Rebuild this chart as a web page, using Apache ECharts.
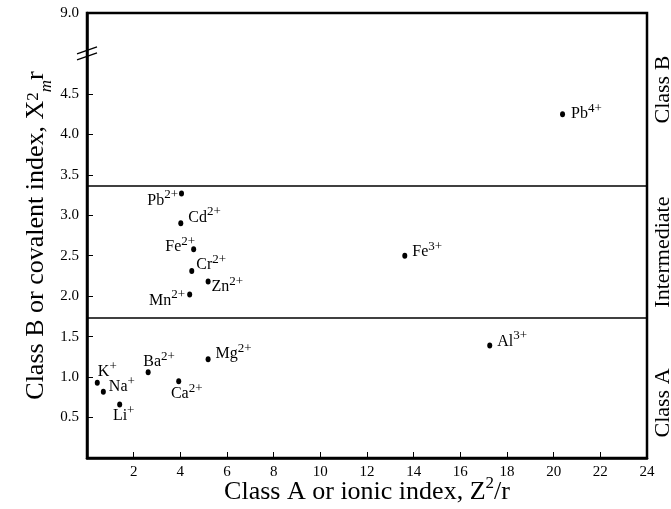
<!DOCTYPE html>
<html><head><meta charset="utf-8">
<script src="https://cdn.jsdelivr.net/npm/echarts@6/dist/echarts.min.js"></script>
<style>html,body{margin:0;padding:0;background:#fff}#c{width:671px;height:509px}</style>
</head><body><div id="c"></div>
<script>
// ---- data ----
const ionSymbols = ['Pb','Cd','Fe','Cr','Zn','Mn','K','Na','Li','Ba','Ca','Mg','Fe','Al','Pb'];
const ionCharges = ['2+','2+','2+','2+','2+','2+','+','+','+','2+','2+','2+','3+','3+','4+'];
const ionicIndex = [4.05,4.02,4.57,4.49,5.19,4.40,0.44,0.70,1.40,2.62,3.93,5.19,13.62,17.26,20.38];
const covalentIndex = [3.27,2.90,2.58,2.31,2.18,2.02,0.93,0.82,0.66,1.06,0.95,1.22,2.50,1.39,4.25];
const xTickValues = [2,4,6,8,10,12,14,16,18,20,22,24];
const yTickValues = [0.5,1.0,1.5,2.0,2.5,3.0,3.5,4.0,4.5,5.5];
const yTickLabels = ['0.5','1.0','1.5','2.0','2.5','3.0','3.5','4.0','4.5','9.0'];
const yMinorTickValues = [0.5,1.0,1.5,2.0,2.5,3.0,3.5,4.0,4.5];
const classBoundaries = [1.73, 3.36];
const classNames = ['Class A','Intermediate','Class B'];
const axisBreakAt = 5.0;

// ---- layout / style ----
const FONT = 'Liberation Serif';
const labelPlacement = [
  ['left',[4,5]],   // Pb2+
  ['right',[0,-8]], // Cd2+
  ['left',[9,-4]],  // Fe2+
  ['right',[-3,-8]],// Cr2+
  ['right',[-4,3]], // Zn2+
  ['left',[3,4]],   // Mn2+
  ['top',[10,5]],   // K+
  ['right',[-2,-7]],// Na+
  ['bottom',[4,-9]],// Li+
  ['top',[11,6]],   // Ba2+
  ['bottom',[8,-7]],// Ca2+
  ['right',[0,-7]], // Mg2+
  ['right',[0,-6]], // Fe3+
  ['right',[0,-6]], // Al3+
  ['right',[1,-2]]  // Pb4+
];
const classLabelShift = [15, 0, -10];

const chart = echarts.init(document.getElementById('c'));
const richIon = {
  n: {fontFamily: FONT, fontSize: 16, lineHeight: 20, verticalAlign: 'bottom', color: '#000'},
  s: {fontFamily: FONT, fontSize: 13, lineHeight: 12, verticalAlign: 'top', color: '#000'}
};
const points = ionicIndex.map((x, i) => ({
  value: [x, covalentIndex[i]],
  label: {
    show: true,
    color: '#000',
    position: labelPlacement[i][0],
    offset: labelPlacement[i][1],
    formatter: '{n|' + ionSymbols[i] + '}{s|' + ionCharges[i] + '}',
    rich: richIon
  }
}));

chart.setOption({
  animation: false,
  backgroundColor: '#fff',
  grid: {left: 87, right: 24, top: 13, bottom: 51, show: true, borderColor: '#000', borderWidth: 2.5, outerBoundsMode: 'none', containLabel: false},
  xAxis: {
    type: 'value', min: 0, max: 24, interval: 2,
    axisLine: {show: true, onZero: false, lineStyle: {color: '#000', width: 2.5}},
    axisTick: {show: true, inside: true, length: 6, lineStyle: {color: '#000', width: 1}},
    splitLine: {show: false},
    axisLabel: {
      color: '#000', fontFamily: FONT, fontSize: 15, margin: 7,
      customValues: xTickValues,
      formatter: v => String(v)
    },
    name: '{t|Class A or ionic index, Z}{sup|2}{t|/r}',
    nameLocation: 'middle', nameGap: 17, nameMoveOverlap: false,
    nameTextStyle: {
      color: '#000', fontFamily: FONT, fontSize: 26,
      rich: {
        t: {fontFamily: FONT, fontSize: 26, lineHeight: 30, verticalAlign: 'bottom', color: '#000'},
        sup: {fontFamily: FONT, fontSize: 17, lineHeight: 16, verticalAlign: 'top', color: '#000'}
      }
    }
  },
  yAxis: {
    type: 'value', min: 0, max: 5.5,
    axisLine: {show: true, onZero: false, lineStyle: {color: '#000', width: 2.5}},
    axisTick: {show: true, inside: true, length: 6, customValues: yMinorTickValues, lineStyle: {color: '#000', width: 1}},
    splitLine: {show: false},
    axisLabel: {
      color: '#000', fontFamily: FONT, fontSize: 15, margin: 8,
      customValues: yTickValues,
      formatter: v => {
        const k = yTickValues.findIndex(t => Math.abs(t - v) < 1e-6);
        return k >= 0 ? yTickLabels[k] : '';
      }
    },
    name: '{t|Class B or covalent index, X}{sup|2}{sub|m}{t|r}',
    nameLocation: 'middle', nameGap: 32, nameMoveOverlap: false,
    nameTextStyle: {
      color: '#000', fontFamily: FONT, fontSize: 26,
      rich: {
        t: {fontFamily: FONT, fontSize: 26, lineHeight: 30, padding: [6,0,6,0], verticalAlign: 'bottom', color: '#000'},
        sup: {fontFamily: FONT, fontSize: 17, lineHeight: 16, verticalAlign: 'top', color: '#000'},
        sub: {fontFamily: FONT, fontSize: 17, fontStyle: 'italic', lineHeight: 14, verticalAlign: 'bottom', color: '#000'}
      }
    }
  },
  series: [{
    type: 'scatter',
    symbol: 'circle',
    symbolSize: [5, 6],
    itemStyle: {color: '#000', opacity: 1},
    data: points,
    markLine: {
      silent: true, symbol: 'none', animation: false,
      label: {show: false},
      lineStyle: {color: '#000', width: 1.5, type: 'solid', opacity: 1},
      data: classBoundaries.map(v => ({yAxis: v}))
    }
  }]
});

// decorations: axis break mark and class region labels
const bands = [0, ...classBoundaries, 5.5];
const graphics = [];
const bp = chart.convertToPixel({gridIndex: 0}, [0, axisBreakAt]);
[-3, 3].forEach(d => {
  graphics.push({type: 'line', shape: {x1: bp[0] - 10, y1: bp[1] + d + 3.5, x2: bp[0] + 10, y2: bp[1] + d - 3.5},
    style: {stroke: '#000', lineWidth: 1.3}, z: 10});
});
classNames.forEach((name, i) => {
  const mid = (bands[i] + bands[i + 1]) / 2;
  const p = chart.convertToPixel({gridIndex: 0}, [24, mid]);
  graphics.push({type: 'text', x: p[0] + 16, y: p[1] + classLabelShift[i], rotation: Math.PI / 2,
    style: {text: name, fontFamily: FONT, fontSize: 22, fill: '#000', align: 'center', verticalAlign: 'middle'}, z: 10});
});
chart.setOption({graphic: graphics});
</script>
</body></html>
